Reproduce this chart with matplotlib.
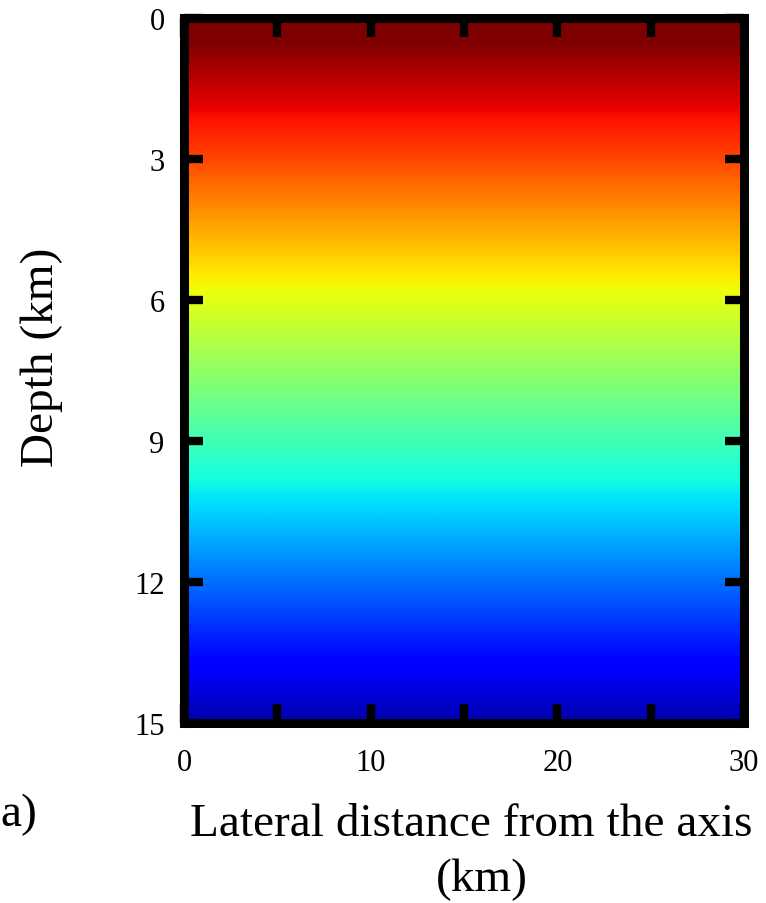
import numpy as np
import matplotlib
matplotlib.use('Agg')
import matplotlib.pyplot as plt

# colour field (normalised, jet scale) at each depth node
depth_nodes = [0, 3, 6, 9, 12, 15]
field_values = [1.035, 0.835, 0.625, 0.43, 0.235, 0.04]

x_range = [0, 30]
x_ticks = [0, 5, 10, 15, 20, 25, 30]
x_ticklabels = ['0', '', '10', '', '20', '', '30']
y_ticks = [0, 3, 6, 9, 12, 15]
y_ticklabels = ['0', '3', '6', '9', '12', '15']

plt.rcParams['font.family'] = ['Liberation Serif', 'DejaVu Serif']

fig = plt.figure(figsize=(7.66, 9.04), dpi=100)
ax = fig.add_axes([184 / 766, 1 - 724 / 904, 560 / 766, 705 / 904])

# one column per node, row centres sitting on the node depths
field = np.array(field_values).reshape(-1, 1).repeat(2, axis=1)
step = depth_nodes[1] - depth_nodes[0]
ax.imshow(field, cmap='jet', vmin=0, vmax=1, aspect='auto',
          interpolation='bilinear', interpolation_stage='data',
          extent=[x_range[0] - 15, x_range[1] + 15,
                  depth_nodes[-1] + step / 2, depth_nodes[0] - step / 2])

ax.set_xlim(x_range)
ax.set_ylim(15, 0)

ax.set_xticks(x_ticks)
ax.set_xticklabels(x_ticklabels)
ax.set_yticks(y_ticks)
ax.set_yticklabels(y_ticklabels)
ax.tick_params(direction='in', length=14, width=6, color='black',
               top=True, right=True, labelsize=22)
ax.tick_params(axis='y', pad=14)
ax.tick_params(axis='x', pad=18)

for sp in ax.spines.values():
    sp.set_linewidth(6.5)
    sp.set_color('black')

fig.text(471 / 766, 1 - 836 / 904, 'Lateral distance from the axis',
         ha='center', va='baseline', fontsize=34)
fig.text(482 / 766, 1 - 891 / 904, '(km)', ha='center', va='baseline', fontsize=34)
fig.text(42 / 766, 1 - 357 / 904, 'Depth (km)', ha='center', va='center',
         rotation=90, fontsize=34)
fig.text(0, 1 - 826 / 904, 'a)', ha='left', va='baseline', fontsize=34)

fig.savefig('out.png', dpi=100)
